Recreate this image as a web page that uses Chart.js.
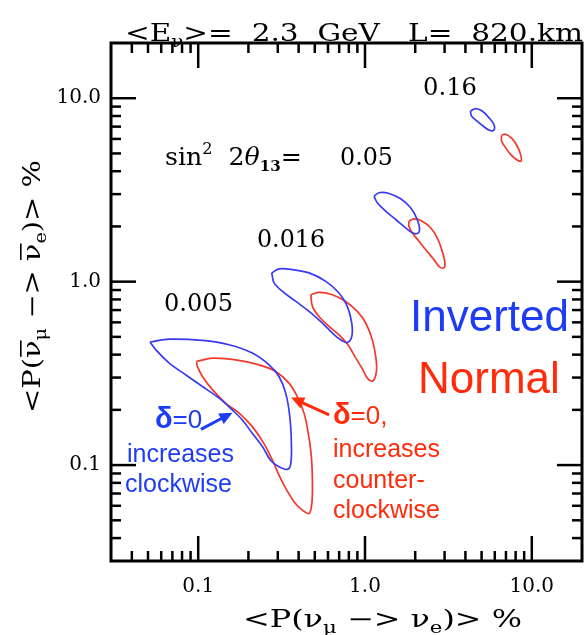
<!DOCTYPE html>
<html>
<head>
<meta charset="utf-8">
<script src="https://cdn.jsdelivr.net/npm/chart.js@4.4.1/dist/chart.umd.min.js"></script>
<style>
  html, body { margin: 0; padding: 0; background: #fff; }
  #c { display: block; }
</style>
</head>
<body>
<canvas id="c" width="586" height="635"></canvas>
<script>
// axis ticks (both axes are log, 0.03 .. 20 %)
const axisMin = 0.03;
const axisMax = 20;
const majorTicks = [0.1, 1, 10];
const majorLabels = ['0.1', '1.0', '10.0'];
const minorTicks = [0.04, 0.05, 0.06, 0.07, 0.08, 0.09, 0.2, 0.3, 0.4, 0.5, 0.6, 0.7, 0.8, 0.9, 2, 3, 4, 5, 6, 7, 8, 9];

// bi-probability ellipses, [P(nu_mu->nu_e) %, P(anti) %]
const inverted005 = [[0.0514,0.468],[0.0670,0.486],[0.106,0.478],[0.153,0.453],[0.211,0.408],[0.266,0.352],[0.305,0.304],[0.335,0.246],[0.354,0.184],[0.362,0.131],[0.359,0.102],[0.343,0.0948],[0.305,0.0979],[0.272,0.106],[0.243,0.126],[0.211,0.149],[0.184,0.176],[0.160,0.200],[0.134,0.231],[0.106,0.268],[0.0844,0.310],[0.0670,0.360],[0.0558,0.425]];
const normal005 = [[0.0977,0.367],[0.122,0.383],[0.168,0.375],[0.232,0.352],[0.292,0.324],[0.351,0.279],[0.393,0.236],[0.431,0.192],[0.457,0.149],[0.477,0.111],[0.484,0.0794],[0.480,0.0618],[0.462,0.0545],[0.421,0.0568],[0.376,0.0630],[0.335,0.0746],[0.305,0.0882],[0.279,0.106],[0.248,0.131],[0.211,0.162],[0.176,0.192],[0.1465,0.217],[0.122,0.257],[0.106,0.304],[0.099,0.344]];
const inverted016 = [[0.276,1.116],[0.305,1.173],[0.367,1.163],[0.462,1.116],[0.582,1.004],[0.699,0.868],[0.783,0.733],[0.833,0.595],[0.833,0.502],[0.783,0.466],[0.715,0.482],[0.637,0.525],[0.555,0.595],[0.462,0.688],[0.385,0.780],[0.320,0.885],[0.285,0.984]];
const normal016 = [[0.473,0.849],[0.530,0.874],[0.637,0.849],[0.766,0.780],[0.899,0.688],[1.01,0.595],[1.106,0.482],[1.159,0.391],[1.172,0.3265],[1.117,0.288],[1.042,0.295],[0.963,0.335],[0.880,0.384],[0.783,0.458],[0.699,0.513],[0.609,0.570],[0.530,0.646],[0.484,0.733]];
const inverted05 = [[1.132,2.925],[1.213,3.053],[1.392,3.026],[1.636,2.831],[1.878,2.527],[2.056,2.182],[2.126,1.924],[2.056,1.829],[1.920,1.846],[1.753,1.966],[1.527,2.182],[1.330,2.422],[1.185,2.692]];
const normal05 = [[1.834,2.136],[1.965,2.201],[2.204,2.136],[2.474,1.966],[2.710,1.733],[2.904,1.464],[3.013,1.265],[2.972,1.188],[2.801,1.203],[2.589,1.319],[2.309,1.496],[2.106,1.661],[1.920,1.846],[1.834,2.005]];
const inverted16 = [[4.295,8.52],[4.60,8.78],[5.04,8.52],[5.53,7.84],[5.92,7.21],[5.92,6.69],[5.53,6.71],[5.04,7.12],[4.60,7.61],[4.33,8.07]];
const normal16 = [[6.59,6.28],[6.96,6.36],[7.62,6.02],[8.17,5.49],[8.56,4.94],[8.63,4.54],[8.17,4.60],[7.46,4.94],[6.96,5.38],[6.59,5.84]];

// annotation arrows, tail -> head in data units
const blueArrow = [[0.1038,0.1567],[0.1605,0.193]];
const redArrow = [[0.609,0.1876],[0.3604,0.2338]];

const BLUE = '#3a3af2';
const RED = '#f2392b';
const BLUE_TXT = '#1e3cf5';
const RED_TXT = '#ff2b0b';
const SERIF = '"DejaVu Serif", serif';
const SANS = '"Liberation Sans", Arial, sans-serif';

function loop(pts, color) {
  const d = pts.map(p => ({ x: p[0], y: p[1] }));
  d.push({ x: pts[0][0], y: pts[0][1] });
  return { data: d, borderColor: color, borderWidth: 1.7, showLine: true, pointRadius: 0, tension: 0.35, fill: false };
}

// draws pieces of text one after another: [text, font, dy, overbar]
function rich(ctx, parts, x, y, width) {
  let w = 0;
  parts.forEach(p => { ctx.font = p[1]; w += ctx.measureText(p[0]).width; });
  const sx = width ? width / w : 1;
  ctx.save();
  ctx.translate(x, y);
  ctx.scale(sx, 1);
  let cx = 0;
  parts.forEach(p => {
    ctx.font = p[1];
    const pw = ctx.measureText(p[0]).width;
    ctx.fillText(p[0], cx, p[2] || 0);
    if (p[3]) ctx.fillRect(cx + 1, -20, pw - 1, 1.6);
    cx += pw;
  });
  ctx.restore();
}

function arrow(ctx, x1, y1, x2, y2, color) {
  const a = Math.atan2(y2 - y1, x2 - x1);
  const hl = 13, hw = 6;
  ctx.strokeStyle = color; ctx.fillStyle = color; ctx.lineWidth = 3;
  ctx.beginPath();
  ctx.moveTo(x1, y1);
  ctx.lineTo(x2 - hl * 0.8 * Math.cos(a), y2 - hl * 0.8 * Math.sin(a));
  ctx.stroke();
  ctx.beginPath();
  ctx.moveTo(x2, y2);
  ctx.lineTo(x2 - hl * Math.cos(a) + hw * Math.sin(a), y2 - hl * Math.sin(a) - hw * Math.cos(a));
  ctx.lineTo(x2 - hl * Math.cos(a) - hw * Math.sin(a), y2 - hl * Math.sin(a) + hw * Math.cos(a));
  ctx.closePath();
  ctx.fill();
}

const overlay = {
  id: 'overlay',
  afterDraw(chart) {
    const { ctx, chartArea: a, scales: { x, y } } = chart;
    ctx.save();
    // frame and inward ticks
    ctx.strokeStyle = '#000';
    ctx.lineWidth = 3;
    ctx.strokeRect(a.left, a.top, a.right - a.left, a.bottom - a.top);
    ctx.lineWidth = 2.5;
    const seg = (x1, y1, x2, y2) => { ctx.beginPath(); ctx.moveTo(x1, y1); ctx.lineTo(x2, y2); ctx.stroke(); };
    const tick = (v, len) => {
      const px = x.getPixelForValue(v);
      seg(px, a.bottom, px, a.bottom - len);
      seg(px, a.top, px, a.top + len);
      const py = y.getPixelForValue(v);
      seg(a.left, py, a.left + len, py);
      seg(a.right, py, a.right - len, py);
    };
    minorTicks.forEach(v => tick(v, 10));
    majorTicks.forEach(v => tick(v, 25));

    ctx.fillStyle = '#000';
    ctx.textBaseline = 'alphabetic';
    ctx.textAlign = 'left';
    const F = '24px ' + SERIF;
    const Fs = '16px ' + SERIF;

    // title
    rich(ctx, [['<E', F], ['ν', Fs, 6], ['>=  2.3  GeV   L=  820.km', F]], 125, 41, 458);
    // x title
    rich(ctx, [['<P(ν', F], ['μ', Fs, 6], [' −> ν', F], ['e', Fs, 6], [')> %', F]], 243, 627, 279);
    // y title
    ctx.save();
    ctx.translate(40, 413);
    ctx.rotate(-Math.PI / 2);
    rich(ctx, [['<P(', F], ['ν', F, 0, true], ['μ', Fs, 6], [' −> ', F], ['ν', F, 0, true], ['e', Fs, 6], [')> %', F]], 0, 0, 253);
    ctx.restore();

    // sin^2 2theta13 labels
    const F25 = '25px ' + SERIF;
    rich(ctx, [['sin', F25], ['2', '16px ' + SERIF, -11], ['  2', F25], ['θ', 'italic 25px ' + SERIF], ['13', 'bold 15px ' + SERIF, 6], ['=', F25]], 165, 165, 137);
    rich(ctx, [['0.16', F25]], 423, 95, 54);
    rich(ctx, [['0.05', F25]], 340, 165, 53);
    rich(ctx, [['0.016', F25]], 257, 247, 68);
    rich(ctx, [['0.005', F25]], 164, 311, 69);

    // hierarchy labels
    ctx.font = '44px ' + SANS;
    ctx.fillStyle = BLUE_TXT;
    ctx.fillText('Inverted', 410, 331);
    ctx.fillStyle = RED_TXT;
    ctx.fillText('Normal', 418, 393);

    // delta annotations
    ctx.fillStyle = BLUE_TXT;
    rich(ctx, [['δ', 'bold 29px ' + SANS], ['=0', '26px ' + SANS]], 155, 428);
    ctx.font = '25px ' + SANS;
    ctx.fillText('increases', 127, 462);
    ctx.fillText('clockwise', 125, 492);
    ctx.fillStyle = RED_TXT;
    rich(ctx, [['δ', 'bold 29px ' + SANS], ['=0,', '26px ' + SANS]], 333, 424);
    ctx.font = '25px ' + SANS;
    ctx.fillText('increases', 333, 457);
    ctx.fillText('counter-', 333, 488);
    ctx.fillText('clockwise', 333, 518);

    const ap = p => [x.getPixelForValue(p[0]), y.getPixelForValue(p[1])];
    let t = ap(blueArrow[0]), h = ap(blueArrow[1]);
    arrow(ctx, t[0], t[1], h[0], h[1], BLUE_TXT);
    t = ap(redArrow[0]); h = ap(redArrow[1]);
    arrow(ctx, t[0], t[1], h[0], h[1], RED_TXT);
    ctx.restore();
  }
};

const logAxis = (extra, pad) => Object.assign({
  type: 'logarithmic',
  min: axisMin,
  max: axisMax,
  grid: { display: false, drawTicks: false },
  border: { display: false },
  ticks: {
    autoSkip: false,
    maxRotation: 0,
    padding: pad,
    color: '#000',
    font: { family: SERIF, size: 20 },
    callback: v => { const i = majorTicks.indexOf(v); return i >= 0 ? majorLabels[i] : ''; }
  },
  afterBuildTicks: s => { s.ticks = majorTicks.map(v => ({ value: v })); }
}, extra);

new Chart(document.getElementById('c').getContext('2d'), {
  type: 'scatter',
  data: {
    datasets: [
      loop(inverted005, BLUE), loop(normal005, RED),
      loop(inverted016, BLUE), loop(normal016, RED),
      loop(inverted05, BLUE), loop(normal05, RED),
      loop(inverted16, BLUE), loop(normal16, RED)
    ]
  },
  options: {
    responsive: false,
    animation: false,
    devicePixelRatio: 1,
    layout: { padding: { top: 43, right: 4, left: 0, bottom: 0 } },
    plugins: { legend: { display: false }, tooltip: { enabled: false } },
    scales: {
      x: logAxis({ afterFit: s => { s.height = 74; } }, 14),
      y: logAxis({ afterFit: s => { s.width = 111; } }, 10)
    }
  },
  plugins: [overlay]
});
</script>
</body>
</html>
